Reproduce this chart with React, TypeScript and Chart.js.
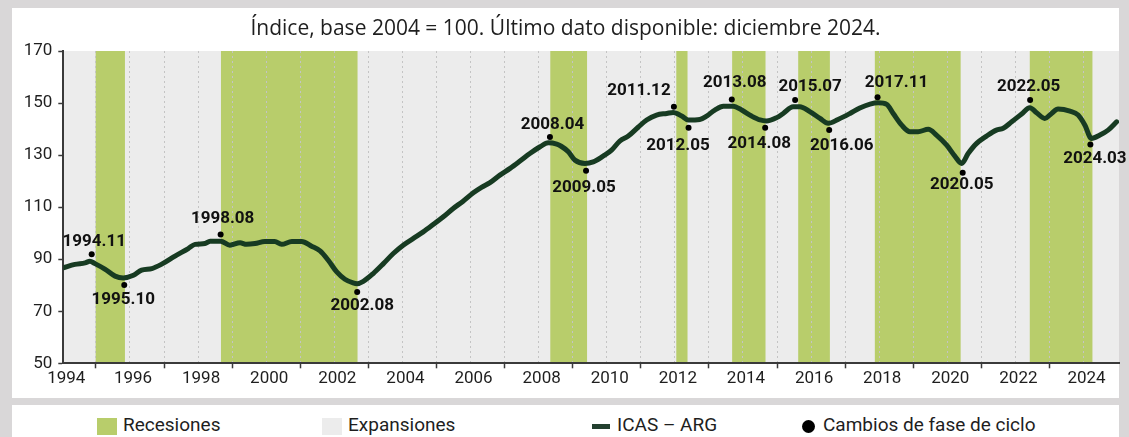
import React, { useEffect, useRef } from "react";
import { Chart, registerables } from "chart.js";

Chart.register(...registerables);

// ---------- DATA ----------
const titleText = "Índice, base 2004 = 100. Último dato disponible: diciembre 2024.";

// decimal-year positions of the ICAS-ARG index readings
const lineDates = [
  1994.0, 1994.34, 1994.64, 1994.78, 1994.93, 1995.22, 1995.52, 1995.76, 1996.06, 1996.3,
  1996.6, 1996.89, 1997.28, 1997.67, 1997.87, 1998.16, 1998.31, 1998.62, 1998.89, 1999.19,
  1999.38, 1999.63, 1999.92, 2000.21, 2000.41, 2000.71, 2001.0, 2001.29, 2001.54, 2001.78,
  2002.03, 2002.27, 2002.51, 2002.63, 2002.81, 2003.1, 2003.4, 2003.69, 2003.98, 2004.28,
  2004.57, 2004.86, 2005.16, 2005.45, 2005.74, 2006.04, 2006.28, 2006.53, 2006.82, 2007.12,
  2007.41, 2007.7, 2008.0, 2008.24, 2008.49, 2008.62, 2008.83, 2009.02, 2009.32, 2009.56,
  2009.85, 2010.1, 2010.34, 2010.59, 2010.88, 2011.13, 2011.42, 2011.72, 2011.91, 2012.16,
  2012.35, 2012.69, 2012.89, 2013.13, 2013.38, 2013.67, 2013.92, 2014.21, 2014.46, 2014.65,
  2014.95, 2015.14, 2015.43, 2015.63, 2015.92, 2016.22, 2016.46, 2016.75, 2017.1, 2017.39,
  2017.69, 2017.93, 2018.18, 2018.37, 2018.62, 2018.86, 2019.1, 2019.4, 2019.64, 2019.94,
  2020.18, 2020.38, 2020.57, 2020.82, 2021.11, 2021.4, 2021.6, 2021.85, 2022.14, 2022.38,
  2022.58, 2022.82, 2023.02, 2023.21, 2023.56, 2023.8, 2024.0, 2024.19, 2024.44, 2024.68,
  2024.93,
];
const lineValues = [
  86.7, 88.0, 88.6, 89.2, 88.3, 86.2, 83.5, 82.8, 83.8, 85.8,
  86.4, 88.1, 91.2, 94.1, 95.7, 96.0, 96.9, 96.9, 95.4, 96.3,
  95.7, 96.0, 96.8, 96.8, 95.7, 96.8, 96.8, 95.0, 93.2, 89.6,
  85.1, 82.3, 80.9, 80.6, 81.5, 84.5, 88.3, 92.2, 95.4, 98.0,
  100.5, 103.3, 106.3, 109.5, 112.3, 115.5, 117.6, 119.4, 122.3, 124.9,
  127.7, 130.6, 133.2, 134.7, 134.2, 133.4, 131.3, 128.1, 126.8, 127.4,
  129.6, 131.9, 135.4, 137.3, 140.7, 143.5, 145.4, 146.0, 146.4, 145.0,
  143.5, 143.7, 145.0, 147.3, 148.8, 148.8, 147.3, 145.0, 143.5, 143.1,
  144.4, 146.0, 148.6, 148.6, 146.7, 144.1, 142.2, 143.7, 146.0, 148.1,
  149.6, 150.1, 149.5, 146.0, 141.5, 139.0, 139.0, 139.9, 137.7, 133.8,
  129.6, 126.8, 130.6, 134.5, 137.3, 139.6, 140.3, 142.8, 145.8, 148.2,
  146.3, 144.1, 146.0, 147.7, 146.9, 145.4, 141.5, 136.4, 137.7, 139.6,
  142.8,
];

// recession periods (decimal years)
const recessionStarts = [1994.95, 1998.63, 2008.3, 2012.0, 2013.64, 2015.58, 2017.83, 2022.38];
const recessionEnds = [1995.81, 2002.64, 2009.38, 2012.33, 2014.62, 2016.51, 2020.35, 2024.22];

// cycle phase changes
const phaseLabels = [
  "1994.11", "1995.10", "1998.08", "2002.08", "2008.04", "2009.05", "2011.12", "2012.05",
  "2013.08", "2014.08", "2015.07", "2016.06", "2017.11", "2020.05", "2022.05", "2024.03",
];
const phaseDates = [
  1994.834, 1995.79, 1998.62, 2002.63, 2008.29, 2009.35, 2011.93, 2012.36,
  2013.63, 2014.61, 2015.49, 2016.49, 2017.91, 2020.41, 2022.39, 2024.16,
];
const phaseDotValues = [
  91.9, 80.1, 99.5, 77.4, 137.0, 124.0, 148.6, 140.5,
  151.4, 140.5, 151.2, 139.6, 152.2, 123.2, 151.2, 134.1,
];

const yTickValues = [50, 70, 90, 110, 130, 150, 170];
const firstYear = 1994;
const lastYear = 2024;

// ---------- STYLE / LAYOUT ----------
const FONT = "Roboto, 'Noto Sans', sans-serif";
const TITLE_FONT = "'Open Sans', Roboto, sans-serif";
const LINE_COLOR = "#173b22";
const REC_COLOR = "#b8cd6b";
const EXP_COLOR = "#ececec";
const AXIS_COLOR = "#3a3a3a";
const TEXT_COLOR = "#1e1e1e";
// label placement in pixels relative to each dot
const labelOffsets: [number, number][] = [
  [2.5, -12.5], [-1, 14.5], [2, -16], [5, 13.5], [2.5, -12.5], [-2, 17], [-35, -15.5], [-10.5, 18],
  [3, -16.5], [-6, 15.5], [15, -13.5], [12.5, 16], [19, -14.5], [-1, 12], [-1.5, -13.5], [4.5, 14],
];

const bandsPlugin = {
  id: "bands",
  beforeDraw(chart: any) {
    const { ctx, chartArea: a, scales } = chart;
    const x = scales.x;
    ctx.save();
    ctx.fillStyle = EXP_COLOR;
    ctx.fillRect(a.left, a.top, a.right - a.left, a.bottom - a.top);
    ctx.fillStyle = REC_COLOR;
    recessionStarts.forEach((s, i) => {
      const x1 = x.getPixelForValue(s);
      const x2 = x.getPixelForValue(recessionEnds[i]);
      ctx.fillRect(x1, a.top, x2 - x1, a.bottom - a.top);
    });
    ctx.restore();
  },
};

const labelsPlugin = {
  id: "phaseLabels",
  afterDatasetsDraw(chart: any) {
    const { ctx, scales } = chart;
    const x = scales.x;
    const y = scales.y;
    ctx.save();
    ctx.font = `bold 17px ${FONT}`;
    ctx.fillStyle = "#111111";
    ctx.textAlign = "center";
    ctx.textBaseline = "middle";
    phaseLabels.forEach((lab, i) => {
      const px = x.getPixelForValue(phaseDates[i]);
      const py = y.getPixelForValue(phaseDotValues[i]);
      const [dx, dy] = labelOffsets[i];
      ctx.fillText(lab, px + dx, py + dy);
    });
    ctx.restore();
  },
};

export default function App() {
  const ref = useRef<HTMLCanvasElement | null>(null);

  useEffect(() => {
    if (!ref.current) return;
    const years: number[] = [];
    for (let yr = firstYear + 1; yr <= lastYear; yr++) years.push(yr);

    const chart = new Chart(ref.current, {
      type: "line",
      data: {
        datasets: [
          {
            label: "Cambios de fase de ciclo",
            type: "scatter",
            data: phaseDates.map((d, i) => ({ x: d, y: phaseDotValues[i] })),
            pointRadius: 3,
            pointBackgroundColor: "#000",
            pointBorderWidth: 0,
            showLine: false,
            order: 0,
          } as any,
          {
            label: "ICAS - ARG",
            data: lineDates.map((d, i) => ({ x: d, y: lineValues[i] })),
            borderColor: LINE_COLOR,
            borderWidth: 5,
            pointRadius: 0,
            cubicInterpolationMode: "monotone",
            borderCapStyle: "round",
            borderJoinStyle: "round",
            fill: false,
            order: 1,
          },
        ],
      },
      options: {
        responsive: false,
        animation: false,
        devicePixelRatio: 1,
        layout: { padding: { left: 0, top: 0, bottom: 0, right: 10 } },
        plugins: {
          legend: { display: false },
          tooltip: { enabled: false },
          title: {
            display: true,
            text: titleText,
            color: TEXT_COLOR,
            font: { family: TITLE_FONT, size: 21, weight: "normal", lineHeight: 1.2 },
            padding: { top: 8, bottom: 9.8 },
          },
        },
        scales: {
          x: {
            type: "linear",
            min: firstYear,
            max: lastYear + 1,
            afterBuildTicks: (s: any) => {
              s.ticks = [{ value: firstYear }, ...years.map((yr) => ({ value: yr - 1 / 24 }))];
            },
            afterFit: (s: any) => {
              s.height = 34.7;
            },
            ticks: {
              autoSkip: false,
              maxRotation: 0,
              minRotation: 0,
              labelOffset: 3,
              padding: 0,
              color: TEXT_COLOR,
              font: { family: FONT, size: 17 },
              callback: (v: any) => {
                const yr = Math.round(Number(v));
                return yr % 2 === 0 ? String(yr) : "";
              },
            },
            grid: {
              color: (c: any) => (c.index === 0 ? "rgba(0,0,0,0)" : "#c4c4c4"),
              lineWidth: 1,
              tickLength: 5,
              tickWidth: 1.5,
              tickColor: (c: any) => {
                if (!c.tick) return AXIS_COLOR;
                const yr = Math.round(c.tick.value);
                return yr % 2 === 1 ? AXIS_COLOR : "rgba(0,0,0,0)";
              },
            },
            border: { display: true, color: AXIS_COLOR, width: 2, dash: [2, 3] },
          },
          y: {
            type: "linear",
            min: 50,
            max: 170,
            afterBuildTicks: (s: any) => {
              s.ticks = yTickValues.map((v) => ({ value: v }));
            },
            afterFit: (s: any) => {
              s.width = 51.3;
            },
            ticks: {
              padding: 6,
              color: TEXT_COLOR,
              font: { family: FONT, size: 17 },
            },
            grid: {
              drawOnChartArea: false,
              tickLength: 5,
              tickWidth: 1.5,
              tickColor: AXIS_COLOR,
            },
            border: { display: true, color: AXIS_COLOR, width: 2 },
          },
        },
      },
      plugins: [bandsPlugin, labelsPlugin],
    } as any);
    return () => chart.destroy();
  }, []);

  const legendText: React.CSSProperties = {
    position: "absolute",
    top: 10,
    fontFamily: FONT,
    fontSize: 19,
    lineHeight: "19px",
    color: TEXT_COLOR,
    whiteSpace: "nowrap",
  };

  return (
    <div
      style={{
        position: "fixed",
        left: 0,
        top: 0,
        width: 1129,
        height: 437,
        background: "#d9d7d8",
        overflow: "hidden",
      }}
    >
      <div style={{ position: "absolute", left: 12, top: 8, width: 1107, height: 390, background: "#fff" }} />
      <canvas
        ref={ref}
        width={1117}
        height={390}
        style={{ position: "absolute", left: 12, top: 8, display: "block" }}
      />
      <div style={{ position: "absolute", left: 12, top: 405, width: 1107, height: 40, background: "#fff" }}>
        <div style={{ position: "absolute", left: 85, top: 13, width: 20, height: 17, background: REC_COLOR }} />
        <span style={{ ...legendText, left: 111 }}>Recesiones</span>
        <div style={{ position: "absolute", left: 310, top: 13, width: 20, height: 17, background: EXP_COLOR }} />
        <span style={{ ...legendText, left: 336 }}>Expansiones</span>
        <div style={{ position: "absolute", left: 580, top: 19, width: 18, height: 5, background: "#23402f" }} />
        <span style={{ ...legendText, left: 605 }}>ICAS – ARG</span>
        <div
          style={{
            position: "absolute",
            left: 790,
            top: 14.5,
            width: 13,
            height: 13,
            borderRadius: "50%",
            background: "#000",
          }}
        />
        <span style={{ ...legendText, left: 811 }}>Cambios de fase de ciclo</span>
      </div>
    </div>
  );
}
